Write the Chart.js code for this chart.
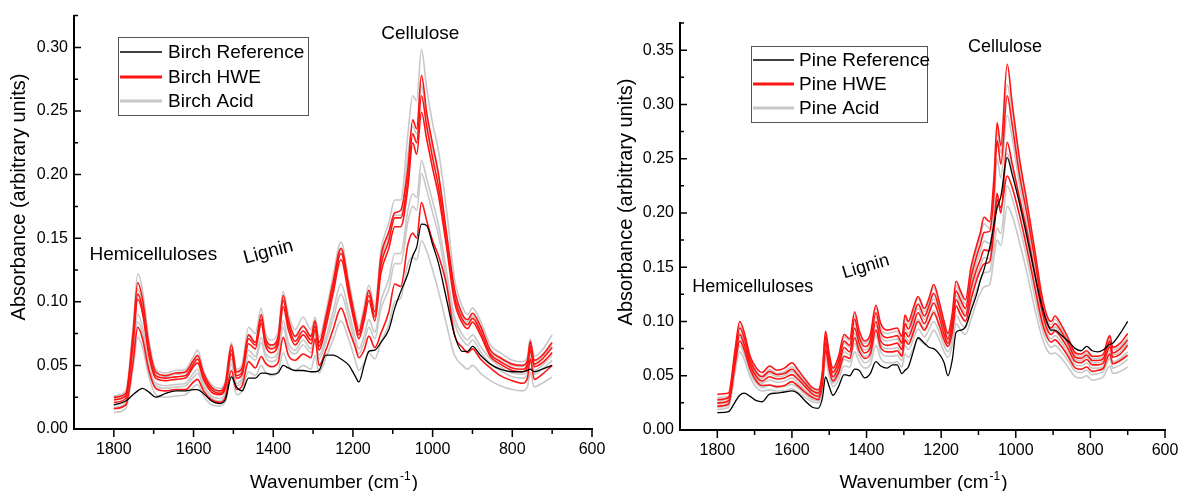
<!DOCTYPE html>
<html>
<head>
<meta charset="utf-8">
<script src="https://cdn.jsdelivr.net/npm/chart.js@4.4.1/dist/chart.umd.min.js"></script>
<style>
  html, body { margin: 0; padding: 0; background: #fff; }
  #wrap { position: relative; width: 1179px; height: 491px; overflow: hidden; }
  canvas { position: absolute; top: 0; }
  #birch { left: 0; }
  #pine { left: 612px; }
</style>
</head>
<body>
<div id="wrap">
  <canvas id="birch" width="612" height="491"></canvas>
  <canvas id="pine" width="567" height="491"></canvas>
</div>
<script>
const FONT = '"Liberation Sans", Arial, sans-serif';

// axis ticks (cm-1)
const xMajor = [600, 800, 1000, 1200, 1400, 1600, 1800];
const xMinor = [700, 900, 1100, 1300, 1500, 1700];

// ---- Birch ----
const birchWavenumber = [1800, 1770, 1752, 1740, 1728, 1712, 1695, 1670, 1645, 1620,
  1600, 1590, 1575, 1555, 1535, 1520, 1505, 1492, 1478, 1462,
  1445, 1430, 1420, 1405, 1388, 1375, 1362, 1345, 1325, 1305,
  1295, 1285, 1268, 1250, 1230, 1210, 1195, 1185, 1172, 1160,
  1145, 1130, 1110, 1095, 1080, 1062, 1050, 1040, 1028, 1015,
  1000, 985, 965, 945, 925, 912, 900, 880, 855, 830,
  800, 775, 762, 755, 745, 725, 700];

const birchReference = [0.019, 0.022, 0.027, 0.030, 0.032, 0.029, 0.025, 0.028, 0.030, 0.030,
  0.031, 0.031, 0.028, 0.022, 0.020, 0.023, 0.041, 0.033, 0.030, 0.040,
  0.040, 0.044, 0.044, 0.043, 0.044, 0.050, 0.048, 0.046, 0.046, 0.045,
  0.045, 0.046, 0.058, 0.058, 0.055, 0.050, 0.042, 0.037, 0.050, 0.061,
  0.062, 0.068, 0.078, 0.095, 0.108, 0.122, 0.136, 0.143, 0.161, 0.160,
  0.145, 0.130, 0.102, 0.074, 0.061, 0.061, 0.065, 0.058, 0.051, 0.047,
  0.045, 0.045, 0.046, 0.047, 0.045, 0.047, 0.050];

const birchHWE1 = [0.025, 0.028, 0.075, 0.115, 0.102, 0.066, 0.045, 0.042, 0.044, 0.045,
  0.054, 0.058, 0.044, 0.033, 0.030, 0.036, 0.066, 0.045, 0.048, 0.074,
  0.068, 0.090, 0.072, 0.066, 0.072, 0.105, 0.086, 0.073, 0.081, 0.073,
  0.085, 0.068, 0.088, 0.115, 0.142, 0.112, 0.088, 0.077, 0.092, 0.109,
  0.092, 0.135, 0.155, 0.170, 0.172, 0.205, 0.243, 0.236, 0.278, 0.249,
  0.224, 0.200, 0.154, 0.110, 0.090, 0.086, 0.091, 0.081, 0.062, 0.056,
  0.051, 0.050, 0.054, 0.069, 0.054, 0.058, 0.068];
const birchHWE2 = [0.023, 0.026, 0.069, 0.106, 0.094, 0.060, 0.042, 0.040, 0.041, 0.042,
  0.051, 0.055, 0.041, 0.031, 0.028, 0.034, 0.062, 0.042, 0.045, 0.071,
  0.066, 0.086, 0.069, 0.063, 0.069, 0.101, 0.082, 0.069, 0.077, 0.070,
  0.081, 0.065, 0.084, 0.111, 0.138, 0.108, 0.085, 0.074, 0.088, 0.105,
  0.088, 0.128, 0.148, 0.166, 0.166, 0.196, 0.232, 0.225, 0.262, 0.238,
  0.213, 0.190, 0.147, 0.104, 0.086, 0.082, 0.087, 0.077, 0.059, 0.053,
  0.048, 0.047, 0.051, 0.065, 0.051, 0.055, 0.064];
const birchHWE3 = [0.021, 0.024, 0.066, 0.102, 0.091, 0.058, 0.040, 0.038, 0.039, 0.040,
  0.049, 0.052, 0.039, 0.029, 0.027, 0.032, 0.059, 0.040, 0.043, 0.067,
  0.063, 0.083, 0.066, 0.060, 0.066, 0.096, 0.078, 0.066, 0.074, 0.067,
  0.078, 0.062, 0.080, 0.106, 0.133, 0.104, 0.082, 0.071, 0.085, 0.101,
  0.085, 0.122, 0.142, 0.159, 0.159, 0.190, 0.225, 0.216, 0.249, 0.228,
  0.205, 0.183, 0.143, 0.100, 0.083, 0.079, 0.084, 0.074, 0.057, 0.051,
  0.046, 0.045, 0.049, 0.062, 0.049, 0.052, 0.060];
const birchHWE4 = [0.016, 0.019, 0.052, 0.080, 0.071, 0.046, 0.032, 0.030, 0.031, 0.031,
  0.037, 0.039, 0.030, 0.023, 0.021, 0.025, 0.046, 0.031, 0.034, 0.053,
  0.048, 0.057, 0.052, 0.049, 0.052, 0.072, 0.058, 0.054, 0.059, 0.056,
  0.071, 0.050, 0.062, 0.078, 0.095, 0.078, 0.065, 0.056, 0.062, 0.073,
  0.064, 0.075, 0.092, 0.114, 0.112, 0.145, 0.154, 0.150, 0.178, 0.164,
  0.148, 0.136, 0.113, 0.074, 0.064, 0.060, 0.063, 0.055, 0.048, 0.042,
  0.038, 0.036, 0.040, 0.055, 0.039, 0.043, 0.050];

const birchAcid1 = [0.026, 0.030, 0.079, 0.122, 0.109, 0.070, 0.047, 0.044, 0.046, 0.047,
  0.057, 0.062, 0.046, 0.035, 0.032, 0.038, 0.068, 0.047, 0.051, 0.080,
  0.075, 0.095, 0.076, 0.070, 0.076, 0.108, 0.090, 0.078, 0.088, 0.078,
  0.088, 0.072, 0.092, 0.120, 0.147, 0.116, 0.092, 0.080, 0.096, 0.113,
  0.096, 0.140, 0.162, 0.180, 0.180, 0.232, 0.262, 0.258, 0.2985, 0.268,
  0.240, 0.218, 0.172, 0.118, 0.096, 0.090, 0.095, 0.085, 0.066, 0.060,
  0.054, 0.053, 0.057, 0.071, 0.057, 0.062, 0.074];
const birchAcid2 = [0.024, 0.027, 0.072, 0.110, 0.098, 0.063, 0.044, 0.041, 0.043, 0.044,
  0.053, 0.057, 0.043, 0.032, 0.029, 0.035, 0.064, 0.044, 0.047, 0.073,
  0.068, 0.088, 0.071, 0.065, 0.071, 0.103, 0.085, 0.072, 0.080, 0.072,
  0.083, 0.067, 0.086, 0.113, 0.140, 0.110, 0.087, 0.076, 0.090, 0.107,
  0.090, 0.132, 0.152, 0.168, 0.168, 0.215, 0.238, 0.232, 0.270, 0.244,
  0.220, 0.198, 0.152, 0.108, 0.089, 0.084, 0.089, 0.079, 0.061, 0.055,
  0.050, 0.049, 0.053, 0.066, 0.053, 0.057, 0.066];
const birchAcid3 = [0.019, 0.022, 0.059, 0.090, 0.080, 0.051, 0.036, 0.034, 0.035, 0.036,
  0.044, 0.047, 0.035, 0.026, 0.024, 0.029, 0.055, 0.036, 0.040, 0.062,
  0.057, 0.072, 0.060, 0.056, 0.060, 0.085, 0.068, 0.062, 0.070, 0.063,
  0.075, 0.058, 0.072, 0.092, 0.114, 0.092, 0.073, 0.063, 0.073, 0.086,
  0.076, 0.100, 0.118, 0.138, 0.138, 0.172, 0.185, 0.182, 0.211, 0.197,
  0.179, 0.160, 0.124, 0.088, 0.074, 0.070, 0.074, 0.065, 0.055, 0.049,
  0.044, 0.043, 0.046, 0.060, 0.046, 0.050, 0.058];
const birchAcid4 = [0.017, 0.020, 0.055, 0.084, 0.075, 0.048, 0.034, 0.032, 0.033, 0.034,
  0.041, 0.044, 0.033, 0.024, 0.022, 0.027, 0.051, 0.034, 0.037, 0.058,
  0.054, 0.068, 0.057, 0.053, 0.057, 0.080, 0.064, 0.059, 0.066, 0.060,
  0.072, 0.055, 0.068, 0.086, 0.106, 0.086, 0.068, 0.059, 0.068, 0.080,
  0.071, 0.094, 0.110, 0.130, 0.130, 0.163, 0.175, 0.172, 0.201, 0.188,
  0.170, 0.152, 0.117, 0.083, 0.070, 0.066, 0.070, 0.061, 0.051, 0.046,
  0.041, 0.040, 0.043, 0.057, 0.043, 0.047, 0.054];
const birchAcid5 = [0.013, 0.016, 0.047, 0.072, 0.064, 0.041, 0.027, 0.025, 0.026, 0.027,
  0.033, 0.035, 0.026, 0.019, 0.018, 0.022, 0.042, 0.027, 0.030, 0.045,
  0.042, 0.050, 0.045, 0.042, 0.045, 0.060, 0.050, 0.046, 0.050, 0.047,
  0.058, 0.044, 0.056, 0.070, 0.085, 0.070, 0.055, 0.046, 0.052, 0.060,
  0.055, 0.068, 0.082, 0.100, 0.103, 0.130, 0.135, 0.133, 0.148, 0.140,
  0.125, 0.108, 0.082, 0.058, 0.050, 0.047, 0.050, 0.044, 0.038, 0.034,
  0.031, 0.030, 0.033, 0.045, 0.033, 0.036, 0.041];

// ---- Pine ----
const pineWavenumber = [1800, 1770, 1752, 1740, 1728, 1712, 1695, 1680, 1660, 1640,
  1620, 1600, 1585, 1565, 1545, 1530, 1518, 1510, 1500, 1490,
  1475, 1460, 1445, 1432, 1420, 1405, 1390, 1375, 1362, 1345,
  1330, 1318, 1305, 1297, 1288, 1275, 1262, 1245, 1232, 1220,
  1205, 1192, 1182, 1170, 1160, 1148, 1135, 1120, 1105, 1095,
  1085, 1070, 1058, 1050, 1040, 1023, 1010, 990, 970, 950,
  930, 915, 905, 895, 880, 860, 840, 825, 810, 795,
  780, 765, 755, 748, 740, 720, 700];

const pineReference = [0.016, 0.017, 0.026, 0.032, 0.034, 0.031, 0.027, 0.026, 0.033, 0.034,
  0.035, 0.036, 0.034, 0.027, 0.021, 0.020, 0.030, 0.049, 0.040, 0.032,
  0.040, 0.051, 0.050, 0.056, 0.055, 0.048, 0.052, 0.063, 0.059, 0.057,
  0.060, 0.060, 0.052, 0.055, 0.058, 0.072, 0.085, 0.080, 0.076, 0.075,
  0.070, 0.062, 0.050, 0.065, 0.090, 0.092, 0.095, 0.110, 0.125, 0.138,
  0.148, 0.168, 0.190, 0.205, 0.215, 0.251, 0.236, 0.209, 0.178, 0.145,
  0.114, 0.098, 0.092, 0.092, 0.088, 0.082, 0.075, 0.073, 0.077, 0.073,
  0.072, 0.074, 0.077, 0.079, 0.080, 0.089, 0.100];

const pineHWE1 = [0.033, 0.034, 0.075, 0.100, 0.090, 0.068, 0.057, 0.053, 0.059, 0.055,
  0.057, 0.062, 0.056, 0.047, 0.039, 0.037, 0.055, 0.091, 0.070, 0.057,
  0.068, 0.088, 0.084, 0.109, 0.092, 0.082, 0.088, 0.115, 0.098, 0.092,
  0.093, 0.094, 0.086, 0.106, 0.100, 0.112, 0.123, 0.112, 0.122, 0.134,
  0.118, 0.100, 0.089, 0.108, 0.137, 0.128, 0.120, 0.150, 0.170, 0.182,
  0.196, 0.192, 0.235, 0.283, 0.262, 0.337, 0.302, 0.250, 0.210, 0.168,
  0.124, 0.104, 0.100, 0.105, 0.098, 0.085, 0.071, 0.070, 0.073, 0.068,
  0.068, 0.070, 0.082, 0.087, 0.076, 0.080, 0.089];
const pineHWE2 = [0.028, 0.030, 0.070, 0.094, 0.085, 0.064, 0.053, 0.049, 0.054, 0.051,
  0.052, 0.056, 0.051, 0.043, 0.036, 0.034, 0.051, 0.086, 0.066, 0.053,
  0.063, 0.082, 0.078, 0.102, 0.086, 0.077, 0.082, 0.108, 0.090, 0.085,
  0.086, 0.087, 0.080, 0.098, 0.093, 0.104, 0.116, 0.105, 0.115, 0.126,
  0.111, 0.094, 0.084, 0.101, 0.128, 0.120, 0.112, 0.140, 0.160, 0.171,
  0.182, 0.183, 0.220, 0.267, 0.245, 0.308, 0.282, 0.235, 0.199, 0.159,
  0.117, 0.098, 0.094, 0.098, 0.092, 0.080, 0.067, 0.066, 0.069, 0.064,
  0.064, 0.066, 0.077, 0.082, 0.071, 0.075, 0.083];
const pineHWE3 = [0.025, 0.027, 0.066, 0.088, 0.079, 0.060, 0.049, 0.045, 0.049, 0.047,
  0.048, 0.051, 0.047, 0.040, 0.033, 0.031, 0.047, 0.080, 0.061, 0.049,
  0.058, 0.076, 0.072, 0.094, 0.080, 0.071, 0.076, 0.100, 0.082, 0.078,
  0.079, 0.080, 0.074, 0.090, 0.086, 0.096, 0.108, 0.098, 0.108, 0.117,
  0.104, 0.088, 0.080, 0.095, 0.120, 0.112, 0.105, 0.130, 0.148, 0.157,
  0.166, 0.165, 0.192, 0.218, 0.200, 0.265, 0.246, 0.214, 0.183, 0.146,
  0.110, 0.092, 0.088, 0.091, 0.086, 0.075, 0.063, 0.062, 0.065, 0.060,
  0.060, 0.062, 0.072, 0.077, 0.067, 0.070, 0.078];
const pineHWE4 = [0.022, 0.024, 0.061, 0.082, 0.074, 0.056, 0.045, 0.041, 0.0415, 0.040,
  0.041, 0.0446, 0.041, 0.035, 0.030, 0.028, 0.043, 0.074, 0.056, 0.045,
  0.053, 0.068, 0.066, 0.085, 0.073, 0.066, 0.070, 0.092, 0.076, 0.072,
  0.072, 0.073, 0.068, 0.083, 0.079, 0.089, 0.100, 0.092, 0.100, 0.108,
  0.096, 0.083, 0.077, 0.090, 0.114, 0.106, 0.100, 0.120, 0.138, 0.147,
  0.153, 0.155, 0.185, 0.212, 0.205, 0.234, 0.224, 0.198, 0.167, 0.133,
  0.100, 0.085, 0.081, 0.083, 0.078, 0.068, 0.057, 0.056, 0.058, 0.054,
  0.055, 0.057, 0.066, 0.070, 0.061, 0.064, 0.069];

const pineAcid1 = [0.030, 0.031, 0.072, 0.096, 0.086, 0.065, 0.054, 0.050, 0.056, 0.052,
  0.054, 0.058, 0.053, 0.045, 0.037, 0.035, 0.053, 0.088, 0.068, 0.055,
  0.066, 0.086, 0.082, 0.105, 0.089, 0.080, 0.085, 0.112, 0.094, 0.089,
  0.090, 0.091, 0.083, 0.102, 0.097, 0.108, 0.121, 0.109, 0.119, 0.131,
  0.115, 0.097, 0.087, 0.105, 0.133, 0.125, 0.116, 0.145, 0.166, 0.178,
  0.190, 0.186, 0.228, 0.275, 0.255, 0.318, 0.294, 0.244, 0.205, 0.163,
  0.120, 0.101, 0.097, 0.102, 0.095, 0.083, 0.069, 0.068, 0.071, 0.066,
  0.066, 0.068, 0.080, 0.085, 0.074, 0.077, 0.085];
const pineAcid2 = [0.027, 0.029, 0.067, 0.090, 0.081, 0.062, 0.051, 0.047, 0.052, 0.049,
  0.050, 0.054, 0.049, 0.041, 0.035, 0.033, 0.049, 0.083, 0.064, 0.051,
  0.061, 0.080, 0.076, 0.098, 0.083, 0.074, 0.079, 0.104, 0.087, 0.082,
  0.083, 0.084, 0.077, 0.094, 0.089, 0.100, 0.112, 0.102, 0.111, 0.121,
  0.107, 0.091, 0.082, 0.098, 0.124, 0.116, 0.108, 0.134, 0.154, 0.164,
  0.174, 0.172, 0.208, 0.250, 0.232, 0.290, 0.270, 0.226, 0.190, 0.150,
  0.112, 0.095, 0.091, 0.095, 0.089, 0.078, 0.065, 0.064, 0.067, 0.062,
  0.062, 0.064, 0.075, 0.080, 0.069, 0.072, 0.080];
const pineAcid3 = [0.024, 0.026, 0.063, 0.085, 0.076, 0.058, 0.047, 0.043, 0.046, 0.044,
  0.045, 0.048, 0.044, 0.037, 0.031, 0.029, 0.045, 0.078, 0.059, 0.047,
  0.055, 0.072, 0.069, 0.089, 0.076, 0.068, 0.072, 0.096, 0.079, 0.075,
  0.075, 0.076, 0.070, 0.086, 0.082, 0.091, 0.102, 0.094, 0.102, 0.110,
  0.098, 0.084, 0.077, 0.091, 0.115, 0.107, 0.101, 0.124, 0.142, 0.151,
  0.159, 0.158, 0.188, 0.212, 0.200, 0.255, 0.240, 0.208, 0.175, 0.138,
  0.104, 0.088, 0.084, 0.087, 0.082, 0.071, 0.060, 0.059, 0.062, 0.057,
  0.057, 0.059, 0.069, 0.073, 0.063, 0.066, 0.072];
const pineAcid4 = [0.021, 0.023, 0.058, 0.078, 0.070, 0.053, 0.043, 0.039, 0.041, 0.039,
  0.040, 0.042, 0.039, 0.033, 0.028, 0.027, 0.041, 0.072, 0.054, 0.043,
  0.050, 0.065, 0.063, 0.080, 0.069, 0.062, 0.066, 0.087, 0.072, 0.068,
  0.068, 0.069, 0.064, 0.078, 0.074, 0.083, 0.093, 0.086, 0.093, 0.100,
  0.090, 0.078, 0.072, 0.084, 0.106, 0.099, 0.094, 0.112, 0.129, 0.138,
  0.145, 0.146, 0.170, 0.186, 0.181, 0.225, 0.214, 0.188, 0.158, 0.124,
  0.094, 0.080, 0.076, 0.078, 0.073, 0.064, 0.054, 0.053, 0.055, 0.051,
  0.052, 0.054, 0.062, 0.066, 0.057, 0.060, 0.065];
const pineAcid5 = [0.019, 0.021, 0.054, 0.072, 0.065, 0.049, 0.039, 0.036, 0.037, 0.036,
  0.036, 0.038, 0.035, 0.030, 0.026, 0.025, 0.038, 0.066, 0.050, 0.040,
  0.046, 0.059, 0.058, 0.072, 0.063, 0.057, 0.060, 0.078, 0.066, 0.062,
  0.062, 0.063, 0.058, 0.070, 0.067, 0.075, 0.084, 0.079, 0.085, 0.092,
  0.083, 0.072, 0.067, 0.078, 0.098, 0.092, 0.088, 0.102, 0.118, 0.126,
  0.132, 0.134, 0.160, 0.175, 0.170, 0.206, 0.198, 0.173, 0.145, 0.113,
  0.086, 0.073, 0.070, 0.071, 0.067, 0.058, 0.049, 0.048, 0.050, 0.046,
  0.047, 0.049, 0.056, 0.059, 0.052, 0.054, 0.058];

const STYLE = {
  ref:  { color: '#000000', width: 1.3, legendWidth: 1.6, order: 0 },
  hwe:  { color: 'rgb(255, 20, 20)', width: 1.6, legendWidth: 3, order: 1 },
  acid: { color: 'rgb(200, 200, 200)', width: 1.6, legendWidth: 3, order: 2 }
};

function series(label, kind, wn, vals) {
  const s = STYLE[kind];
  return {
    label,
    data: wn.map((w, i) => ({ x: w, y: vals[i] })),
    borderColor: s.color,
    borderWidth: s.width,
    legendWidth: s.legendWidth,
    order: s.order,
    pointRadius: 0,
    fill: false,
    cubicInterpolationMode: 'monotone'
  };
}

const decorPlugin = {
  id: 'decor',
  afterDraw(chart, args, o) {
    const { ctx, chartArea: a, scales: { x, y } } = chart;
    ctx.save();

    // tick marks: x outward, y inward
    ctx.strokeStyle = '#000';
    ctx.lineWidth = 1.5;
    ctx.beginPath();
    xMajor.forEach(v => { const p = x.getPixelForValue(v); ctx.moveTo(p, a.bottom); ctx.lineTo(p, a.bottom + 8); });
    xMinor.forEach(v => { const p = x.getPixelForValue(v); ctx.moveTo(p, a.bottom); ctx.lineTo(p, a.bottom + 5); });
    o.yMajor.forEach(v => { const p = y.getPixelForValue(v); ctx.moveTo(a.left, p); ctx.lineTo(a.left + 7, p); });
    o.yMinor.forEach(v => { const p = y.getPixelForValue(v); ctx.moveTo(a.left, p); ctx.lineTo(a.left + 4, p); });
    ctx.stroke();

    // legend box, one entry per label
    const L = o.legend;
    const entries = [];
    chart.data.datasets.forEach(d => { if (!entries.find(e => e.label === d.label)) entries.push(d); });
    ctx.fillStyle = '#fff';
    ctx.fillRect(L.x0, L.y0, L.x1 - L.x0, L.y1 - L.y0);
    ctx.strokeStyle = '#555';
    ctx.lineWidth = 1;
    ctx.strokeRect(L.x0 + 0.5, L.y0 + 0.5, L.x1 - L.x0, L.y1 - L.y0);
    ctx.font = `19px ${FONT}`;
    ctx.textAlign = 'left';
    ctx.textBaseline = 'middle';
    entries.forEach((d, i) => {
      const yy = L.rows[i];
      ctx.strokeStyle = d.borderColor;
      ctx.lineWidth = d.legendWidth;
      ctx.beginPath();
      ctx.moveTo(L.lineX0, yy);
      ctx.lineTo(L.lineX1, yy);
      ctx.stroke();
      ctx.fillStyle = '#000';
      ctx.fillText(d.label, L.textX, yy + 1);
    });

    // band labels
    o.notes.forEach(n => {
      ctx.save();
      ctx.translate(x.getPixelForValue(n.x), y.getPixelForValue(n.y));
      ctx.rotate(n.angle * Math.PI / 180);
      ctx.font = `${n.size}px ${FONT}`;
      ctx.textAlign = 'center';
      ctx.textBaseline = 'middle';
      ctx.fillStyle = '#000';
      ctx.fillText(n.text, 0, 0);
      ctx.restore();
    });

    // y title
    ctx.save();
    ctx.translate(o.yTitleX, o.yTitleY);
    ctx.rotate(-Math.PI / 2);
    ctx.font = `20px ${FONT}`;
    ctx.textAlign = 'center';
    ctx.textBaseline = 'middle';
    ctx.fillStyle = '#000';
    ctx.fillText('Absorbance (arbitrary units)', 0, 0);
    ctx.restore();

    // x title with superscript
    const main = 'Wavenumber (cm', sup = '-1', tail = ')';
    ctx.font = `19px ${FONT}`;
    const w1 = ctx.measureText(main).width, w3 = ctx.measureText(tail).width;
    ctx.font = `12px ${FONT}`;
    const w2 = ctx.measureText(sup).width;
    const sx = (a.left + a.right) / 2 - (w1 + w2 + w3) / 2;
    ctx.textAlign = 'left';
    ctx.textBaseline = 'alphabetic';
    ctx.fillStyle = '#000';
    ctx.font = `19px ${FONT}`;
    ctx.fillText(main, sx, o.xTitleY);
    ctx.font = `12px ${FONT}`;
    ctx.fillText(sup, sx + w1 + 1, o.xTitleY - 8);
    ctx.font = `19px ${FONT}`;
    ctx.fillText(tail, sx + w1 + w2 + 2, o.xTitleY);

    ctx.restore();
  }
};

function makeChart(id, datasets, cfg) {
  return new Chart(document.getElementById(id), {
    type: 'line',
    data: { datasets },
    plugins: [decorPlugin],
    options: {
      responsive: false,
      animation: false,
      devicePixelRatio: 1,
      events: [],
      layout: { padding: { left: 0, top: cfg.top, right: cfg.right, bottom: 0 } },
      plugins: {
        legend: { display: false },
        tooltip: { enabled: false },
        decor: cfg.decor
      },
      scales: {
        x: {
          type: 'linear',
          reverse: true,
          min: 600,
          max: 1900,
          afterBuildTicks: s => { s.ticks = xMajor.map(v => ({ value: v })); },
          afterFit: s => { s.height = cfg.xHeight; },
          ticks: { color: '#000', font: { size: 16, family: FONT }, padding: 11, maxRotation: 0, autoSkip: false, callback: v => String(v) },
          grid: { display: false, drawTicks: false },
          border: { display: true, color: '#000', width: 2 }
        },
        y: {
          min: 0,
          max: cfg.yMax,
          afterBuildTicks: s => { s.ticks = cfg.decor.yMajor.map(v => ({ value: v })); },
          afterFit: s => { s.width = cfg.yWidth; },
          ticks: { color: '#000', font: { size: 16, family: FONT }, padding: 6, callback: v => v.toFixed(2) },
          grid: { display: false, drawTicks: false },
          border: { display: true, color: '#000', width: 2 }
        }
      }
    }
  });
}

const birchDatasets = [
  series('Birch Reference', 'ref', birchWavenumber, birchReference),
  series('Birch HWE', 'hwe', birchWavenumber, birchHWE1),
  series('Birch HWE', 'hwe', birchWavenumber, birchHWE2),
  series('Birch HWE', 'hwe', birchWavenumber, birchHWE3),
  series('Birch HWE', 'hwe', birchWavenumber, birchHWE4),
  series('Birch Acid', 'acid', birchWavenumber, birchAcid1),
  series('Birch Acid', 'acid', birchWavenumber, birchAcid2),
  series('Birch Acid', 'acid', birchWavenumber, birchAcid3),
  series('Birch Acid', 'acid', birchWavenumber, birchAcid4),
  series('Birch Acid', 'acid', birchWavenumber, birchAcid5)
];

const pineDatasets = [
  series('Pine Reference', 'ref', pineWavenumber, pineReference),
  series('Pine HWE', 'hwe', pineWavenumber, pineHWE1),
  series('Pine HWE', 'hwe', pineWavenumber, pineHWE2),
  series('Pine HWE', 'hwe', pineWavenumber, pineHWE3),
  series('Pine HWE', 'hwe', pineWavenumber, pineHWE4),
  series('Pine Acid', 'acid', pineWavenumber, pineAcid1),
  series('Pine Acid', 'acid', pineWavenumber, pineAcid2),
  series('Pine Acid', 'acid', pineWavenumber, pineAcid3),
  series('Pine Acid', 'acid', pineWavenumber, pineAcid4),
  series('Pine Acid', 'acid', pineWavenumber, pineAcid5)
];

makeChart('birch', birchDatasets, {
  top: 15, right: 20, xHeight: 62, yWidth: 74, yMax: 0.325,
  decor: {
    yMajor: [0, 0.05, 0.10, 0.15, 0.20, 0.25, 0.30],
    yMinor: [0.025, 0.075, 0.125, 0.175, 0.225, 0.275, 0.325],
    legend: { x0: 118, y0: 37, x1: 308, y1: 115, lineX0: 120, lineX1: 162, textX: 168, rows: [52, 77, 101] },
    notes: [
      { text: 'Cellulose', x: 1031, y: 0.3106, angle: 0, size: 19 },
      { text: 'Hemicelluloses', x: 1701, y: 0.1366, angle: 0, size: 19 },
      { text: 'Lignin', x: 1412, y: 0.139, angle: -15, size: 19 }
    ],
    yTitleX: 19, yTitleY: 197, xTitleY: 488
  }
});

makeChart('pine', pineDatasets, {
  top: 23, right: 14, xHeight: 61, yWidth: 68, yMax: 0.375,
  decor: {
    yMajor: [0, 0.05, 0.10, 0.15, 0.20, 0.25, 0.30, 0.35],
    yMinor: [0.025, 0.075, 0.125, 0.175, 0.225, 0.275, 0.325, 0.375],
    legend: { x0: 139, y0: 46, x1: 315, y1: 122, lineX0: 141, lineX1: 182, textX: 187, rows: [60, 84, 108] },
    notes: [
      { text: 'Cellulose', x: 1029, y: 0.3533, angle: 0, size: 18 },
      { text: 'Hemicelluloses', x: 1705, y: 0.1319, angle: 0, size: 18 },
      { text: 'Lignin', x: 1402, y: 0.1504, angle: -17, size: 18 }
    ],
    yTitleX: 14, yTitleY: 202, xTitleY: 488
  }
});
</script>
</body>
</html>
